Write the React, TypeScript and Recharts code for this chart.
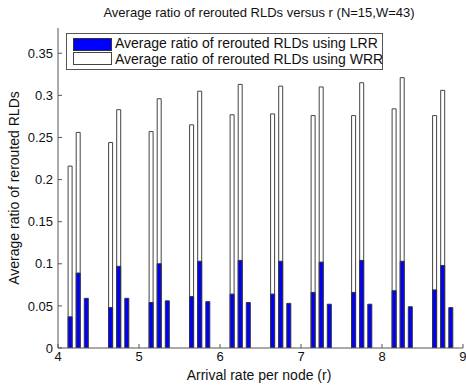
import { Bar, BarChart, XAxis, YAxis } from "recharts";

// bar centres on the r axis (three bars per group)
const RATES = [
  4.15, 4.25, 4.35, 4.65, 4.75, 4.85, 5.15, 5.25, 5.35, 5.65, 5.75, 5.85,
  6.15, 6.25, 6.35, 6.65, 6.75, 6.85, 7.15, 7.25, 7.35, 7.65, 7.75, 7.85,
  8.15, 8.25, 8.35, 8.65, 8.75, 8.85,
];

const LRR = [
  0.037, 0.089, 0.059, 0.048, 0.097, 0.059, 0.054, 0.1, 0.056, 0.061, 0.103,
  0.055, 0.064, 0.104, 0.054, 0.064, 0.103, 0.053, 0.066, 0.102, 0.052, 0.066,
  0.104, 0.052, 0.068, 0.103, 0.049, 0.069, 0.098, 0.048,
];

const WRR = [
  0.216, 0.256, null, 0.244, 0.283, null, 0.257, 0.296, null, 0.265, 0.305,
  null, 0.277, 0.313, null, 0.278, 0.311, null, 0.276, 0.31, null, 0.276,
  0.315, null, 0.284, 0.321, null, 0.276, 0.306, null,
];

const X_TICKS = [4, 5, 6, 7, 8, 9];
const Y_TICKS = [0, 0.05, 0.1, 0.15, 0.2, 0.25, 0.3, 0.35];

const data = RATES.map((r, i) => ({ r, lrr: LRR[i], wrr: WRR[i] }));

const FONT = "'Liberation Sans', Arial, sans-serif";
const AXIS = "#555";
const tickStyle = { fontSize: 13, fill: "#111", fontFamily: FONT };

export default function App() {
  return (
    <div
      style={{
        position: "absolute",
        left: 0,
        top: 0,
        width: 466,
        height: 385,
        background: "#fff",
        fontFamily: FONT,
        color: "#111",
      }}
    >
      <BarChart
        width={466}
        height={385}
        data={data}
        margin={{ top: 28, right: 3, left: 0, bottom: 0 }}
      >
        <XAxis
          xAxisId="b"
          dataKey="r"
          type="number"
          domain={[4, 9]}
          ticks={X_TICKS}
          height={37}
          tickSize={-4}
          tickMargin={8}
          tick={tickStyle}
          stroke={AXIS}
          allowDataOverflow
        />
        <XAxis
          xAxisId="t"
          dataKey="r"
          type="number"
          orientation="top"
          domain={[4, 9]}
          ticks={X_TICKS}
          height={0}
          tickSize={-4}
          tick={false}
          stroke={AXIS}
          allowDataOverflow
        />
        <YAxis
          yAxisId="l"
          type="number"
          domain={[0, 0.38]}
          ticks={Y_TICKS}
          width={58}
          tickSize={-4}
          tickMargin={9}
          tick={tickStyle}
          stroke={AXIS}
          allowDataOverflow
        />
        <YAxis
          yAxisId="r"
          orientation="right"
          type="number"
          domain={[0, 0.38]}
          ticks={Y_TICKS}
          width={0}
          tickSize={-4}
          tick={false}
          stroke={AXIS}
          allowDataOverflow
        />
        <Bar
          xAxisId="b"
          yAxisId="l"
          dataKey="wrr"
          fill="#ffffff"
          stroke="#444"
          barSize={4}
          isAnimationActive={false}
        />
        <Bar
          xAxisId="t"
          yAxisId="l"
          dataKey="lrr"
          fill="#0000ff"
          stroke="#333"
          barSize={4}
          isAnimationActive={false}
        />
      </BarChart>

      <div
        style={{
          position: "absolute",
          left: 0,
          width: 466,
          top: 5,
          paddingLeft: 52,
          boxSizing: "border-box",
          textAlign: "center",
          fontSize: 13,
          whiteSpace: "nowrap",
        }}
      >
        Average ratio of rerouted RLDs versus r (N=15,W=43)
      </div>

      <div
        style={{
          position: "absolute",
          left: 0,
          width: 466,
          top: 367,
          paddingLeft: 52,
          boxSizing: "border-box",
          textAlign: "center",
          fontSize: 14,
          whiteSpace: "nowrap",
        }}
      >
        Arrival rate per node (r)
      </div>

      <div
        style={{
          position: "absolute",
          left: 14,
          top: 188,
          transform: "translate(-50%, -50%) rotate(-90deg)",
          fontSize: 14,
          whiteSpace: "nowrap",
        }}
      >
        Average ratio of rerouted RLDs
      </div>

      <div
        style={{
          position: "absolute",
          left: 66,
          top: 33,
          width: 315,
          height: 35,
          border: `1px solid ${AXIS}`,
          background: "#fff",
          fontSize: 14,
          lineHeight: "16px",
        }}
      >
        <div
          style={{
            position: "absolute",
            left: 6,
            top: 4,
            width: 37,
            height: 11,
            background: "#0000ff",
            border: "1px solid #333",
          }}
        />
        <div
          style={{
            position: "absolute",
            left: 6,
            top: 18,
            width: 37,
            height: 11,
            background: "#fff",
            border: "1px solid #444",
          }}
        />
        <div style={{ position: "absolute", left: 48, top: 1, whiteSpace: "nowrap" }}>
          Average ratio of rerouted RLDs using LRR
        </div>
        <div style={{ position: "absolute", left: 48, top: 17, whiteSpace: "nowrap" }}>
          Average ratio of rerouted RLDs using WRR
        </div>
      </div>
    </div>
  );
}
